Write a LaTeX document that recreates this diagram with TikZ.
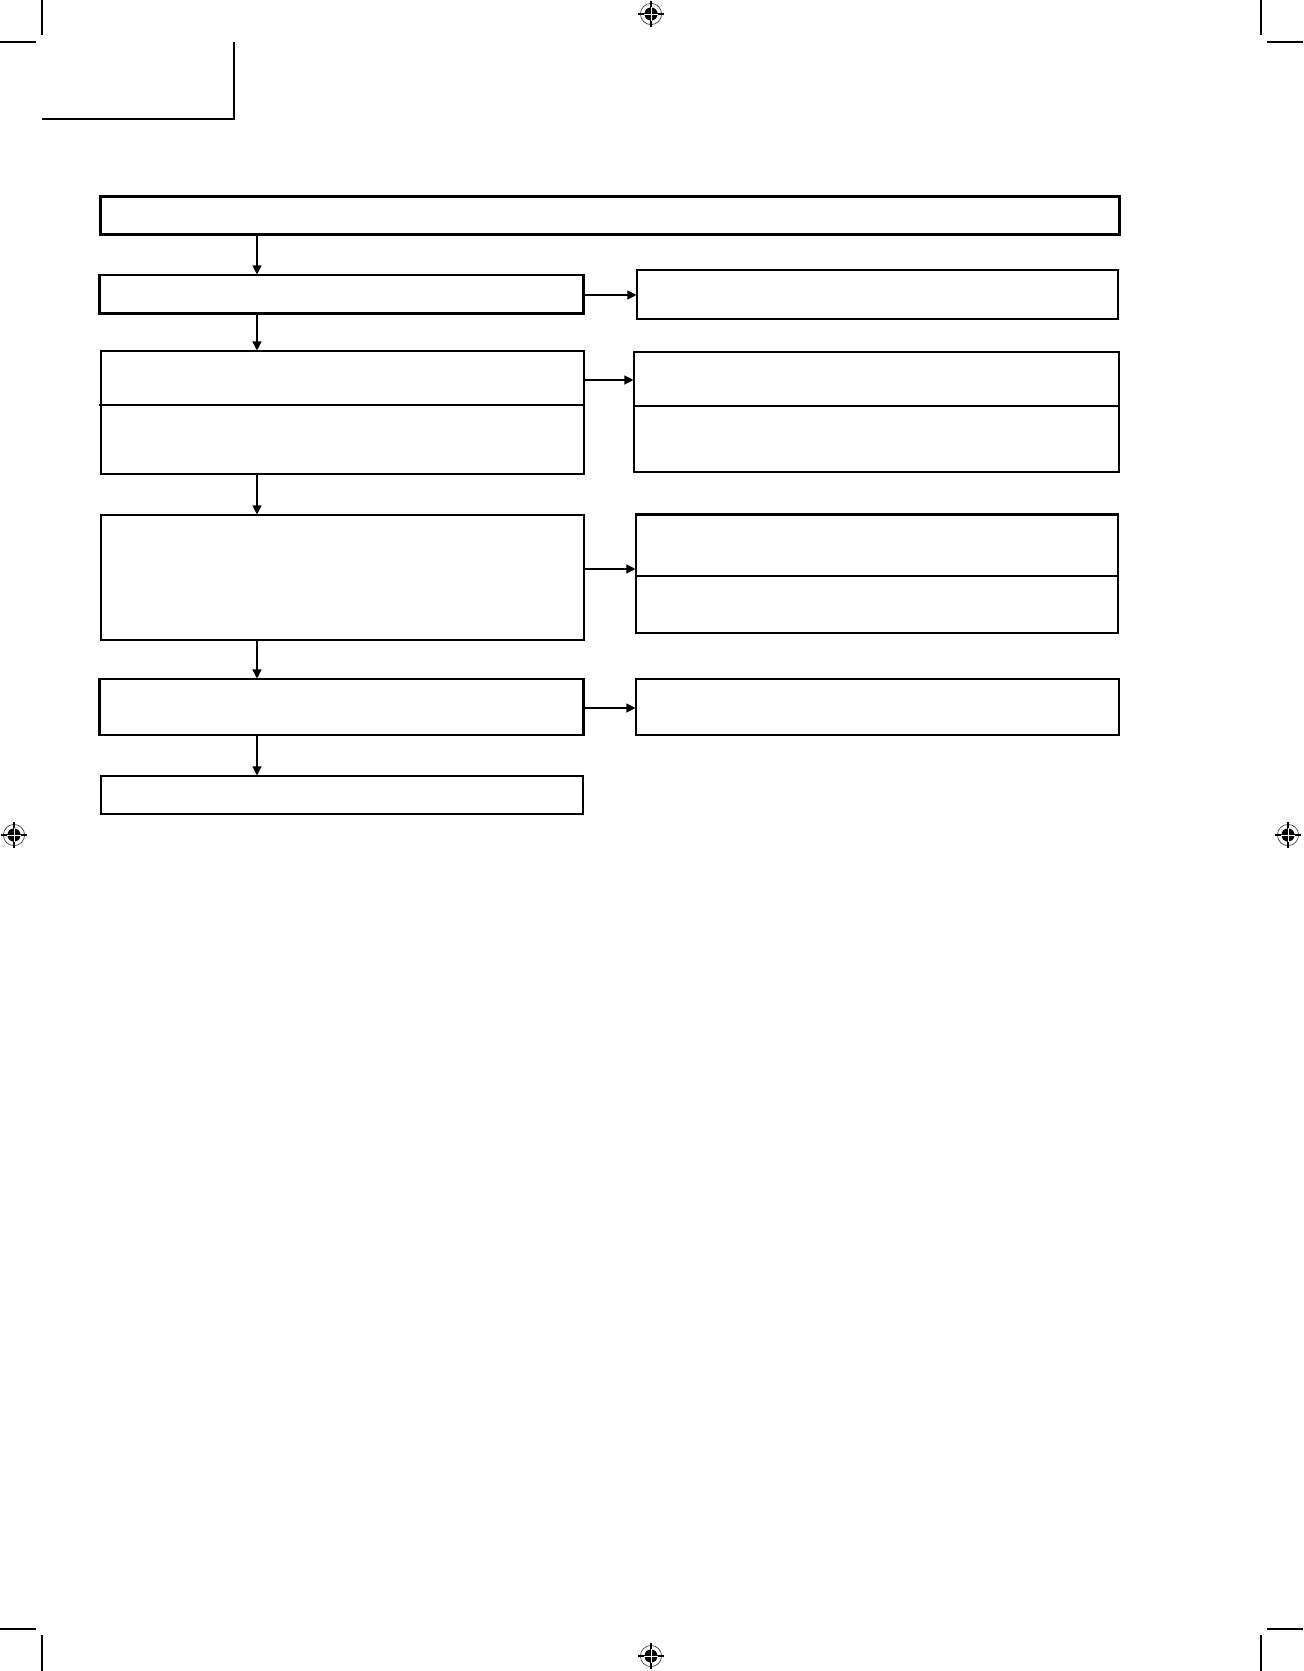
\documentclass[tikz,border=0pt]{standalone}
\usetikzlibrary{arrows.meta,fit}
\begin{document}
\begin{tikzpicture}[x=0.5pt,y=-0.5pt,
  box/.style={draw=black,line width=0.55pt,inner sep=0pt,fill=none},
  thickbox/.style={draw=black,line width=1.5pt,inner sep=0pt},
  thk/.style={line width=1.4pt},
  arr/.style={line width=0.55pt,-{Triangle[length=4.5pt,width=4.5pt]}},
  crop/.style={line width=0.6pt},
  regmark/.pic={
    \draw[line width=0.35pt,black!75] (0,0) circle[radius=5.3pt];
    \draw[line width=0.55pt] (-6.3pt,0) -- (6.3pt,0) (0,-6.3pt) -- (0,6.3pt);
    \fill[black] (0,0) circle[radius=3.3pt];
    \draw[white,line width=0.3pt] (-3.3pt,0) -- (3.3pt,0) (0,-3.3pt) -- (0,3.3pt);
  }]
\useasboundingbox (0,0) rectangle (1303,1671);
% crop marks
\draw[crop] (42,0) -- (42,35) (0,42) -- (36,42);
\draw[crop] (1261,0) -- (1261,35) (1267,42) -- (1303,42);
\draw[crop] (0,1629) -- (36,1629) (42,1635) -- (42,1671);
\draw[crop] (1267,1629) -- (1303,1629) (1261,1635) -- (1261,1671);
% registration marks
\pic at (651,14) {regmark};
\pic at (651,1656) {regmark};
\pic at (14,835) {regmark};
\pic at (1288,835) {regmark};
% header tab
\draw[line width=1.1pt] (42,119) -- (234,119) -- (234,42);
% boxes
\node[thickbox,fit={(100,196) (1119,234)}] (top) {};
\node[box,fit={(100,275) (583,313)}] (a) {};
\node[box,fit={(637,270) (1118,319)}] (ar) {};
\node[box,fit={(101,351) (584,474)}] (b) {};
\node[box,fit={(634,352) (1119,472)}] (br) {};
\node[box,fit={(101,515) (584,640)}] (c) {};
\node[box,fit={(636,515) (1118,633)}] (cr) {};
\node[box,fit={(100,679) (583,735)}] (d) {};
\node[box,fit={(636,679) (1119,735)}] (dr) {};
\node[box,fit={(101,776) (583,814)}] (e) {};
% thick edges and dividers
\draw[thk] (a.north west) -- (a.south west) -- (a.south east) -- (a.north east);
\draw[thk] (99,405) -- (b.east |- 0,405);
\draw[line width=0.55pt] (br.west |- 0,406) -- (br.east |- 0,406);
\draw[thk] (cr.north west) -- (cr.north east);
\draw[line width=0.55pt] (cr.west |- 0,576) -- (cr.east |- 0,576);
\draw[thk] (d.north west) -- (d.south west) (d.north east) -- (d.south east);
% connectors
\coordinate (ax) at (257,0);
\draw[arr] (top.south -| ax) -- (a.north -| ax);
\draw[arr] (a.south -| ax) -- (b.north -| ax);
\draw[arr] (b.south -| ax) -- (c.north -| ax);
\draw[arr] (c.south -| ax) -- (d.north -| ax);
\draw[arr] (d.south -| ax) -- (e.north -| ax);
\draw[arr] (a.east |- 0,295) -- (ar.west |- 0,295);
\draw[arr] (b.east |- 0,380) -- (br.west |- 0,380);
\draw[arr] (c.east |- 0,569) -- (cr.west |- 0,569);
\draw[arr] (d.east |- 0,708) -- (dr.west |- 0,708);
\end{tikzpicture}
\end{document}
